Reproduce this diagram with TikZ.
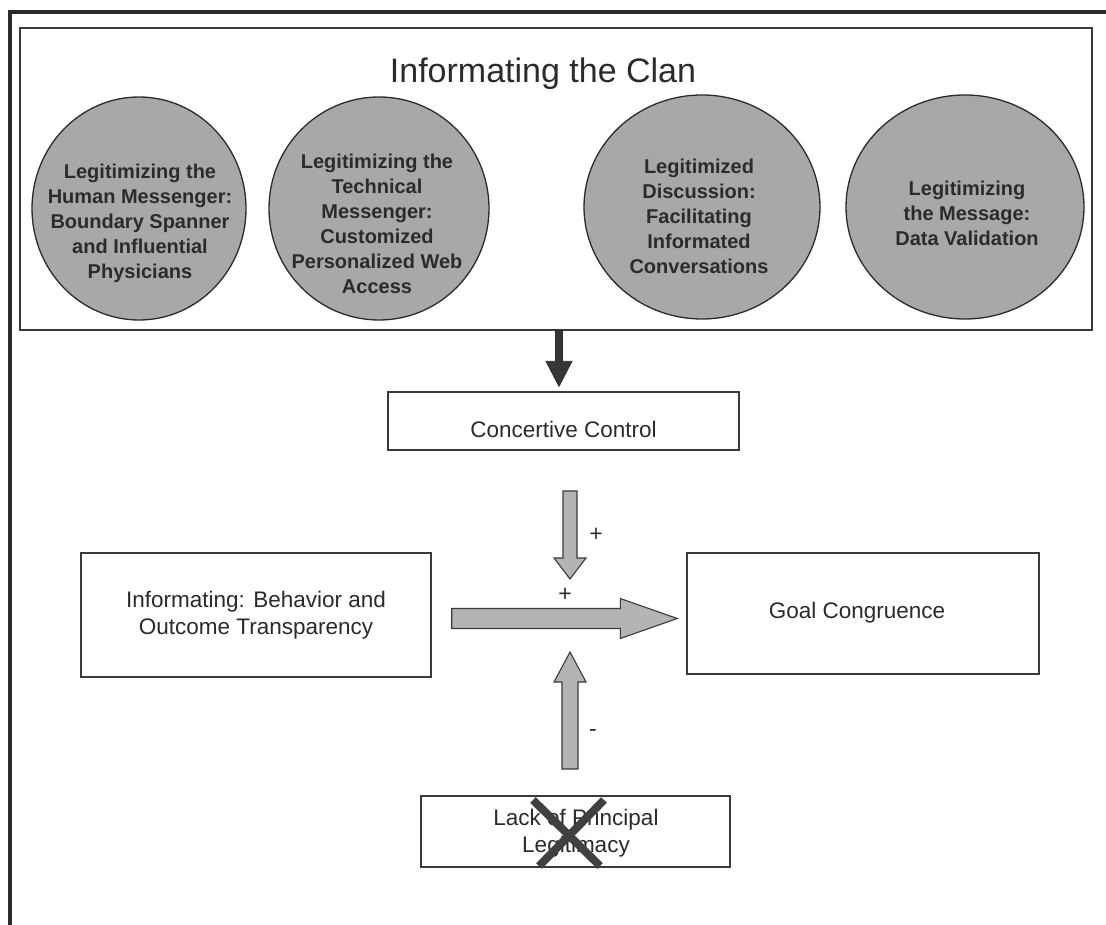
\documentclass[tikz,border=0pt]{standalone}
\usepackage{fontspec}
\setmainfont{Liberation Sans}
\usetikzlibrary{calc,shapes.geometric}

\definecolor{ink}{HTML}{2B2B2B}
\definecolor{edge}{HTML}{3A3A3A}
\definecolor{discfill}{HTML}{A8A8A8}
\definecolor{shaftfill}{HTML}{B4B4B4}

\tikzset{
  framebox/.style={draw=edge, line width=1.4pt, fill=white, inner sep=0pt},
  disc/.style={ellipse, draw=ink, line width=1.3pt, fill=discfill, inner sep=0pt},
  disctext/.style={align=center, text=ink, font=\fontsize{20}{25}\selectfont\bfseries},
  boxtext/.style={align=center, text=ink, font=\fontsize{22.5}{27}\selectfont},
  signtext/.style={text=ink, font=\fontsize{23}{26}\selectfont},
  fatarrow/.style={draw=edge, line width=1.1pt, fill=shaftfill, line join=miter},
  darkarrow/.style={draw=ink, line width=0.8pt, fill=ink!95!white, line join=miter},
}

% block arrow: #1 options, #2 tail, #3 tip, #4 shaft half width,
% #5 head half width, #6 head length
\newcommand\blockarrow[6]{%
  \coordinate (ba-hb) at ($(#3)!#6!(#2)$);
  \path[#1]
    ($(#2)!#4!90:(#3)$) -- ($(ba-hb)!#4!-90:(#2)$) -- ($(ba-hb)!#5!-90:(#2)$)
    -- (#3) -- ($(ba-hb)!#5!90:(#2)$) -- ($(ba-hb)!#4!90:(#2)$)
    -- ($(#2)!#4!-90:(#3)$) -- cycle;
}

\begin{document}
\begin{tikzpicture}[x=1pt, y=-1pt]
\useasboundingbox (0,0) rectangle (1106,925);

% page frame
\draw[ink, line width=4pt] (10,925) -- (10,12) -- (1106,12);

% upper panel
\node[framebox, line width=1.2pt, minimum width=1072pt, minimum height=302pt] (clan) at (556,179) {};
\node[text=ink, font=\fontsize{34}{38}\selectfont, anchor=base] (title) at (543,83) {Informating the Clan};

\node[disc, minimum width=214pt, minimum height=223pt] (c1) at (139,208.5) {};
\node[disc, minimum width=220pt, minimum height=223pt] (c2) at (379,208.5) {};
\node[disc, minimum width=236pt, minimum height=224pt] (c3) at (702,207) {};
\node[disc, minimum width=238pt, minimum height=224pt] (c4) at (965,207) {};

\node[disctext] (t1) at (140,223) {Legitimizing the\\Human Messenger:\\Boundary Spanner\\and Influential\\Physicians};
\node[disctext] (t2) at (377,223.5) {Legitimizing the\\Technical\\Messenger:\\Customized\\Personalized Web\\Access};
\node[disctext] (t3) at (699,216) {Legitimized\\Discussion:\\Facilitating\\Informated\\Conversations};
\node[disctext] (t4) at (967,213) {Legitimizing\\the Message:\\Data Validation};

% boxes
\node[framebox, minimum width=351pt, minimum height=58pt] (cc) at (563.5,421) {};
\node[boxtext, anchor=base] (cct) at (563.5,437) {Concertive Control};

\node[framebox, minimum width=350pt, minimum height=124pt] (inf) at (256,615) {};
\node[boxtext] (inft) at (256,615) {Informating: Behavior and\\Outcome Transparency};

\node[framebox, minimum width=352pt, minimum height=121pt] (goal) at (863,613.5) {};
\node[boxtext, anchor=base] (goalt) at (857,618) {Goal Congruence};

\node[framebox, minimum width=309pt, minimum height=71pt] (lack) at (575.5,831.5) {};
\node[boxtext] (lackt) at (576,833) {Lack of Principal\\Legitimacy};

% struck-out cross over the legitimacy box
\draw[ink!90!white, line width=8pt] ([xshift=-36.5pt,yshift=-34.5pt]lack.center) coordinate (x1)
  -- ([xshift=28.5pt,yshift=31.5pt]lack.center) coordinate (x2);
\draw[ink!90!white, line width=8pt] ([xshift=24.5pt,yshift=-34.5pt]lack.center) coordinate (x3)
  -- ([xshift=-42.5pt,yshift=31.5pt]lack.center) coordinate (x4);

% arrow anchors
\coordinate (d0) at ([xshift=3pt]clan.south);
\coordinate (d1) at ([xshift=-4.5pt,yshift=5pt]cc.north);
\coordinate (p0) at (570,491);
\coordinate (p1) at (570,579);
\coordinate (h0) at ([xshift=20pt,yshift=-3.5pt]inf.east);
\coordinate (h1) at ([xshift=-9pt,yshift=-5pt]goal.west);
\coordinate (m0) at (570,769);
\coordinate (m1) at (570,652);

\blockarrow{darkarrow}{d0}{d1}{3.5pt}{13pt}{25pt}
\blockarrow{fatarrow}{p0}{p1}{7pt}{16pt}{21pt}
\blockarrow{fatarrow}{h0}{h1}{10pt}{20pt}{57pt}
\blockarrow{fatarrow}{m0}{m1}{8pt}{16pt}{30pt}

% signs
\node[signtext] (s1) at (596,535) {+};
\node[signtext] (s2) at (565,595) {+};
\node[signtext] (s3) at (593,733) {-};
\end{tikzpicture}
\end{document}
